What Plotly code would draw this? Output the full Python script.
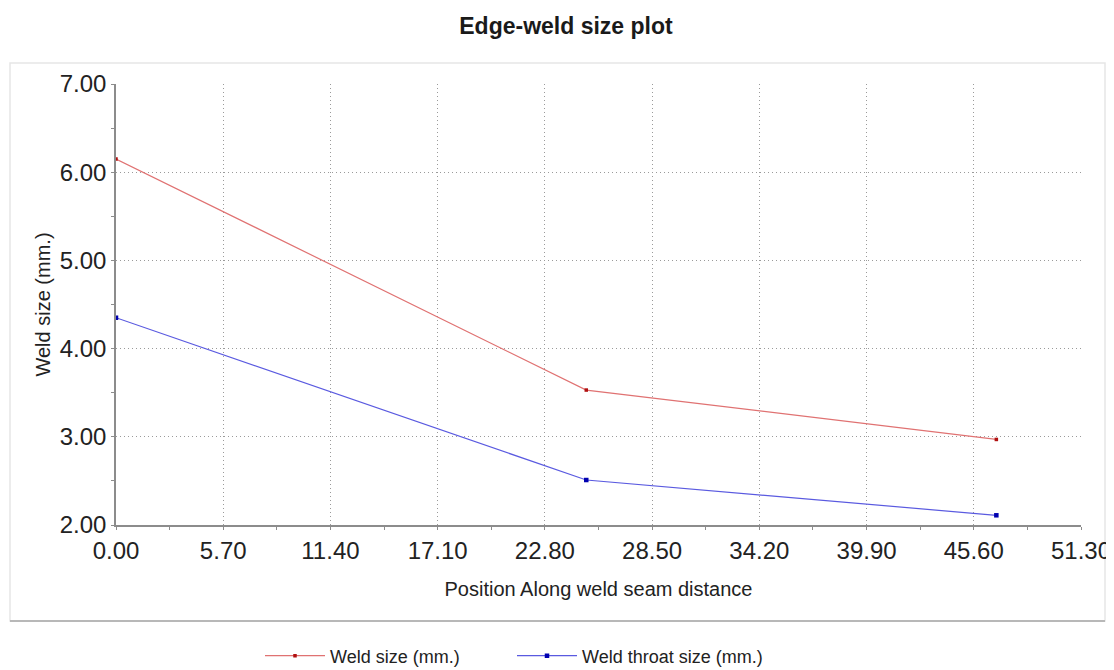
import plotly.graph_objects as go

# ---- data ----
positions = [0.0, 25.0, 46.8]
weld_size = [6.15, 3.53, 2.97]
throat_size = [4.35, 2.51, 2.11]
x_ticks = [0.0, 5.7, 11.4, 17.1, 22.8, 28.5, 34.2, 39.9, 45.6, 51.3]
y_ticks = [2.0, 3.0, 4.0, 5.0, 6.0, 7.0]
series_names = ["Weld size (mm.)", "Weld throat size (mm.)"]

FONT = "Liberation Sans, Arial, Helvetica, sans-serif"

fig = go.Figure()
fig.add_trace(go.Scatter(
    x=positions, y=weld_size, name=series_names[0], mode="lines+markers",
    line=dict(color="#e07272", width=1.2),
    marker=dict(color="#b01010", size=3.5, symbol="square"),
))
fig.add_trace(go.Scatter(
    x=positions, y=throat_size, name=series_names[1], mode="lines+markers",
    line=dict(color="#5a5ae0", width=1.2),
    marker=dict(color="#0000b0", size=4.5, symbol="square"),
))

OFF = 8  # page body margin
W, H = 1114 - OFF, 670 - OFF
# page-pixel positions of the plot area
PL, PR, PT, PB = 116, 1081, 84, 525
L, R, T, B = PL - OFF, W - (PR - OFF), PT - OFF, H - (PB - OFF)
pw, ph = W - L - R, H - T - B

def px2paper_x(px):
    return (px - OFF - L) / pw

def px2paper_y(py):
    return (H - B - (py - OFF)) / ph

# outer frame
fig.add_shape(type="rect", xref="paper", yref="paper",
              x0=px2paper_x(10), x1=px2paper_x(1105),
              y0=px2paper_y(621), y1=px2paper_y(63),
              line=dict(color="#e6e6e6", width=1.5), layer="below")
fig.add_shape(type="line", xref="paper", yref="paper",
              x0=px2paper_x(10), x1=px2paper_x(1105),
              y0=px2paper_y(621), y1=px2paper_y(621),
              line=dict(color="#b8b8b8", width=2))

fig.update_layout(
    width=W, height=H,
    margin=dict(l=L, r=R, t=T, b=B, autoexpand=False),
    paper_bgcolor="white", plot_bgcolor="white",
    font=dict(family=FONT, color="#222222"),
    title=dict(text="<b>Edge-weld size plot</b>", x=(566 - OFF) / W, xref="container", xanchor="center",
               y=1 - (26 - OFF) / H, yref="container", yanchor="middle",
               font=dict(size=23, color="#1a1a1a", family=FONT)),
    showlegend=True,
    legend=dict(orientation="h", x=px2paper_x(260), xanchor="left",
                y=px2paper_y(656), yanchor="middle",
                font=dict(size=18, color="#222222"), itemwidth=60,
                entrywidth=177, entrywidthmode="pixels",
                bgcolor="rgba(0,0,0,0)"),
)

fig.update_xaxes(
    range=[0, 51.3], tickvals=x_ticks, tickformat=".2f", automargin=False,
    tickfont=dict(size=24, color="#222222"),
    showline=True, linecolor="#8c8c8c", linewidth=1.5,
    ticks="outside", ticklen=3, tickcolor="#8c8c8c",
    showgrid=True, gridcolor="#9a9a9a", griddash="1px,3px", gridwidth=1,
    zeroline=False,
    minor=dict(dtick=2.85, tick0=0, ticks="outside", ticklen=3, tickcolor="#8c8c8c", showgrid=False),
    title=dict(text="Position Along weld seam distance", font=dict(size=20, color="#222222"), standoff=19),
)
fig.update_yaxes(
    range=[2, 7], tickvals=y_ticks, tickformat=".2f", automargin=False,
    tickfont=dict(size=24, color="#222222"),
    showline=True, linecolor="#8c8c8c", linewidth=1.5,
    ticks="outside", ticklen=3, tickcolor="#8c8c8c",
    showgrid=True, gridcolor="#9a9a9a", griddash="1px,3px", gridwidth=1,
    zeroline=False,
    minor=dict(dtick=0.5, tick0=2, ticks="outside", ticklen=3, tickcolor="#8c8c8c", showgrid=False),
    title=dict(text="Weld size (mm.)", font=dict(size=20, color="#222222"), standoff=4),
)

fig.write_html("out.html")
